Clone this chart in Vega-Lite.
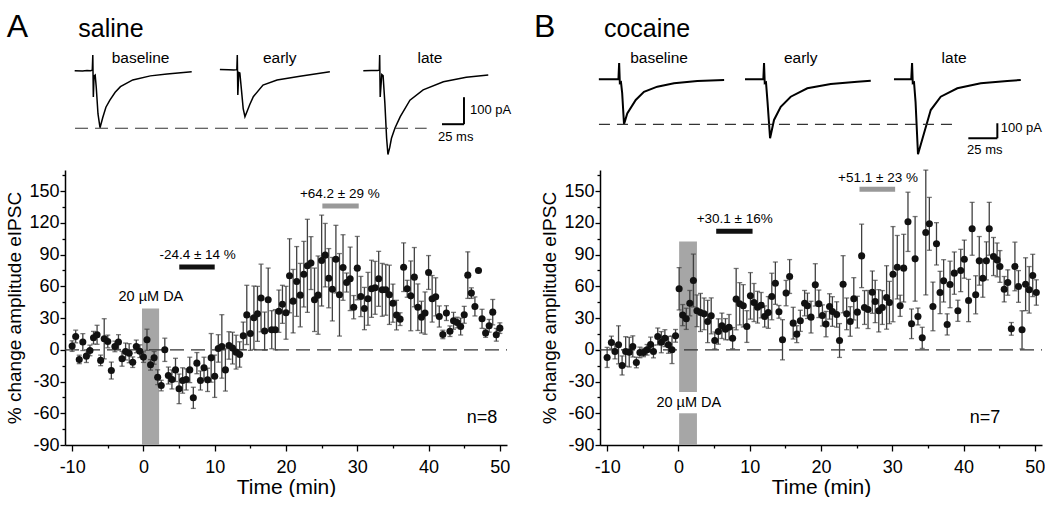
{
"$schema": "https://vega.github.io/schema/vega-lite/v6.json",
"padding": {"left": 5, "top": 0, "right": 0, "bottom": 0},
"config": {
 "font": "Liberation Sans",
 "view": {"stroke": null},
 "axis": {"grid": false, "domainColor": "#000", "domainWidth": 1.5, "tickColor": "#000", "tickWidth": 1.3, "labelColor": "#000", "labelFontSize": 18, "titleColor": "#000", "titleFontWeight": "normal", "labelFlush": false, "labelOverlap": false}
},
"datasets": {
 "saline": [
  {"t":-10,"v":3.5,"e":5},{"t":-9.5,"v":12.6,"e":6},{"t":-9,"v":-9.1,"e":4},{"t":-8.5,"v":7.3,"e":8},{"t":-8,"v":-6,"e":6},{"t":-7.5,"v":-0.6,"e":5},{"t":-7,"v":11.4,"e":6},{"t":-6.5,"v":14.2,"e":9},{"t":-6,"v":-10,"e":5},{"t":-5.5,"v":10.4,"e":19},{"t":-5,"v":7.9,"e":6},{"t":-4.5,"v":-19.6,"e":8},{"t":-4,"v":3.2,"e":5},{"t":-3.5,"v":7.3,"e":7},{"t":-3,"v":-8.5,"e":7},{"t":-2.5,"v":-1.6,"e":8},{"t":-2,"v":-3.2,"e":9},{"t":-1.5,"v":-11.7,"e":5},{"t":-1,"v":3.2,"e":6},{"t":-0.5,"v":-1.3,"e":6},
  {"t":0,"v":-6.9,"e":5},{"t":0.5,"v":9.5,"e":10},{"t":1,"v":-14.2,"e":5},{"t":1.5,"v":-7.6,"e":6},{"t":2,"v":-25.9,"e":7},{"t":2.5,"v":-33.8,"e":5},{"t":3,"v":0,"e":11},{"t":3.5,"v":-24.3,"e":8},{"t":4,"v":-28,"e":9},{"t":4.5,"v":-19,"e":11},{"t":5,"v":-36.9,"e":14},{"t":5.5,"v":-29,"e":12},{"t":6,"v":-28,"e":10},{"t":6.5,"v":-19,"e":12},{"t":7,"v":-45.4,"e":10},{"t":7.5,"v":-12.6,"e":10},{"t":8,"v":-29,"e":9},{"t":8.5,"v":-17,"e":10},{"t":9,"v":-28.4,"e":11},{"t":9.5,"v":-7.6,"e":23},
  {"t":10,"v":-25,"e":20},{"t":10.5,"v":1.3,"e":13},{"t":11,"v":3.2,"e":30},{"t":11.5,"v":-19,"e":20},{"t":12,"v":4.1,"e":13},{"t":12.5,"v":1.6,"e":15},{"t":13,"v":-2.2,"e":16},{"t":13.5,"v":-4.4,"e":12},{"t":14,"v":13.2,"e":13},{"t":14.5,"v":33,"e":28},{"t":15,"v":15.5,"e":16},{"t":15.5,"v":30.3,"e":30},{"t":16,"v":34,"e":26},{"t":16.5,"v":49,"e":32},{"t":17,"v":17.7,"e":18},{"t":17.5,"v":47.3,"e":30},{"t":18,"v":19,"e":18},{"t":18.5,"v":19,"e":19},{"t":19,"v":36.5,"e":20},{"t":19.5,"v":43,"e":18},
  {"t":20,"v":35,"e":25},{"t":20.5,"v":70,"e":35},{"t":21,"v":46,"e":30},{"t":21.5,"v":64.6,"e":33},{"t":22,"v":51.7,"e":30},{"t":22.5,"v":71.5,"e":31},{"t":23,"v":79.4,"e":44},{"t":23.5,"v":82,"e":25},{"t":24,"v":47.3,"e":30},{"t":24.5,"v":51.7,"e":37},{"t":25,"v":84.4,"e":43},{"t":25.5,"v":89.5,"e":30},{"t":26,"v":67.7,"e":28},{"t":26.5,"v":57.3,"e":30},{"t":27,"v":85.7,"e":32},{"t":27.5,"v":52,"e":39},{"t":28,"v":77.8,"e":31},{"t":28.5,"v":63.6,"e":9},{"t":29,"v":67.1,"e":30},{"t":29.5,"v":40.3,"e":11},
  {"t":30,"v":77.2,"e":30},{"t":30.5,"v":50.4,"e":19},{"t":31,"v":39,"e":20},{"t":31.5,"v":48.2,"e":25},{"t":32,"v":57.7,"e":27},{"t":32.5,"v":58.6,"e":25},{"t":33,"v":67.1,"e":26},{"t":33.5,"v":56.7,"e":25},{"t":34,"v":56.7,"e":24},{"t":34.5,"v":52,"e":28},{"t":35,"v":44.1,"e":18},{"t":35.5,"v":32.8,"e":14},{"t":36,"v":29,"e":6},{"t":36.5,"v":78.1,"e":23},{"t":37,"v":57.7,"e":8},{"t":37.5,"v":51,"e":33},{"t":38,"v":68.7,"e":28},{"t":38.5,"v":40.3,"e":22},{"t":39,"v":30.9,"e":15},{"t":39.5,"v":34.7,"e":20},
  {"t":40,"v":73.1,"e":16},{"t":40.5,"v":48.2,"e":22},{"t":41,"v":50.1,"e":18},{"t":41.5,"v":31.5,"e":10},{"t":42,"v":14.5,"e":4},{"t":42.5,"v":34.7,"e":7},{"t":43,"v":17.6,"e":5},{"t":43.5,"v":27.4,"e":8},{"t":44,"v":25.8,"e":5},{"t":44.5,"v":22,"e":8},{"t":45,"v":33.1,"e":8},{"t":45.5,"v":70.6,"e":22},{"t":46,"v":53.6,"e":5},{"t":46.5,"v":41,"e":9},{"t":47,"v":75,"e":0},{"t":47.5,"v":29.3,"e":9},{"t":48,"v":15.8,"e":4},{"t":48.5,"v":22.7,"e":6},{"t":49,"v":35.6,"e":12},{"t":49.5,"v":14.2,"e":6},{"t":50,"v":20.5,"e":5}
 ],
 "cocaine": [
  {"t":-10,"v":-7.2,"e":9.5},{"t":-9.4,"v":6.9,"e":6},{"t":-8.9,"v":-1.6,"e":7},{"t":-8.4,"v":4.7,"e":18},{"t":-7.9,"v":-14.8,"e":9},{"t":-7.4,"v":-1.6,"e":14},{"t":-6.9,"v":-2.2,"e":14},{"t":-6.4,"v":3.2,"e":10},{"t":-5.9,"v":-12,"e":5},{"t":-5.4,"v":-2.5,"e":5},{"t":-4.9,"v":-2.5,"e":4},{"t":-4.4,"v":0,"e":5},{"t":-3.9,"v":5,"e":7},{"t":-3.5,"v":-1.6,"e":6},{"t":-2.9,"v":12.6,"e":8},{"t":-2.4,"v":7.2,"e":10},{"t":-1.9,"v":11,"e":8},{"t":-1.4,"v":4.7,"e":8},{"t":-0.9,"v":0,"e":13},{"t":-0.4,"v":13.2,"e":6},
  {"t":0.1,"v":57.7,"e":20},{"t":0.6,"v":32.8,"e":10},{"t":1.1,"v":29.3,"e":10},{"t":1.6,"v":44.1,"e":12},{"t":2.1,"v":65.5,"e":25},{"t":2.6,"v":36.9,"e":15},{"t":3.1,"v":35.3,"e":18},{"t":3.6,"v":34,"e":15},{"t":4.1,"v":26.8,"e":20},{"t":4.6,"v":32.1,"e":17},{"t":5.1,"v":8.8,"e":8},{"t":5.6,"v":17.3,"e":12},{"t":6.1,"v":22.7,"e":12},{"t":6.6,"v":19.5,"e":10},{"t":7.1,"v":21.4,"e":12},{"t":7.6,"v":11,"e":10},{"t":8.1,"v":47.9,"e":29},{"t":8.6,"v":43.5,"e":20},{"t":9.1,"v":41.6,"e":20},{"t":9.6,"v":22,"e":15},
  {"t":10.1,"v":51,"e":22},{"t":10.6,"v":44.7,"e":18},{"t":11.1,"v":40.3,"e":15},{"t":11.6,"v":42.2,"e":12},{"t":12.1,"v":31.5,"e":10},{"t":12.6,"v":35.3,"e":15},{"t":13.1,"v":50.4,"e":22},{"t":13.6,"v":63,"e":20},{"t":14.1,"v":35.9,"e":6},{"t":14.6,"v":9.5,"e":19},{"t":15.1,"v":53.6,"e":12},{"t":15.6,"v":69.3,"e":16},{"t":16.1,"v":25.2,"e":15},{"t":16.6,"v":14.8,"e":8},{"t":17.1,"v":27.4,"e":10},{"t":17.7,"v":44.1,"e":12},{"t":18.1,"v":41.6,"e":12},{"t":18.6,"v":30.9,"e":15},{"t":19.2,"v":61.4,"e":20},{"t":19.7,"v":43.5,"e":13},
  {"t":20.2,"v":32.5,"e":10},{"t":20.7,"v":24.3,"e":12},{"t":21.2,"v":41,"e":12},{"t":21.6,"v":36.2,"e":14},{"t":22.2,"v":33.4,"e":12},{"t":22.6,"v":8.8,"e":16},{"t":23.1,"v":62,"e":27},{"t":23.6,"v":34,"e":15},{"t":24.1,"v":26.8,"e":14},{"t":24.6,"v":48.2,"e":20},{"t":25.1,"v":35.6,"e":15},{"t":25.7,"v":88.8,"e":30},{"t":26.1,"v":40,"e":16},{"t":26.6,"v":38.1,"e":18},{"t":27.2,"v":54.5,"e":20},{"t":27.6,"v":45.7,"e":20},{"t":28.1,"v":36.9,"e":20},{"t":28.6,"v":40,"e":16},{"t":29.2,"v":49.5,"e":30},{"t":29.6,"v":44.7,"e":20},
  {"t":30.1,"v":71.5,"e":45},{"t":30.7,"v":78.1,"e":30},{"t":31.1,"v":41.6,"e":10},{"t":31.6,"v":77.2,"e":32},{"t":32.2,"v":121,"e":28},{"t":32.7,"v":24.6,"e":14},{"t":33.2,"v":86,"e":40},{"t":33.6,"v":31.5,"e":8},{"t":34.2,"v":11.3,"e":10},{"t":34.7,"v":110.9,"e":59},{"t":35.2,"v":119.1,"e":25},{"t":35.7,"v":41,"e":23},{"t":36.2,"v":100.2,"e":20},{"t":36.7,"v":54.2,"e":20},{"t":37.2,"v":65.2,"e":20},{"t":37.7,"v":24,"e":10},{"t":38.1,"v":61.8,"e":22},{"t":38.7,"v":72.5,"e":20},{"t":39.2,"v":36.9,"e":10},{"t":39.6,"v":75,"e":20},
  {"t":40.1,"v":85.7,"e":18},{"t":40.7,"v":46.6,"e":20},{"t":41.2,"v":114.4,"e":25},{"t":41.7,"v":52,"e":18},{"t":42.2,"v":84.1,"e":23},{"t":42.7,"v":67.7,"e":18},{"t":43.2,"v":84.1,"e":18},{"t":43.6,"v":114.4,"e":25},{"t":44.2,"v":88.2,"e":18},{"t":44.7,"v":85,"e":16},{"t":45.1,"v":78.8,"e":15},{"t":45.7,"v":57.3,"e":12},{"t":46.2,"v":63.6,"e":12},{"t":46.7,"v":19.8,"e":6},{"t":47.2,"v":78.8,"e":23},{"t":47.7,"v":59.9,"e":15},{"t":48.2,"v":18.9,"e":18},{"t":48.7,"v":62,"e":25},{"t":49.2,"v":56.7,"e":22},{"t":49.7,"v":70.3,"e":20},{"t":50.2,"v":54.2,"e":12}
 ]
},
"spacing": 21,
"hconcat": [
 {
  "spacing": 0,
  "vconcat": [
   {
    "width": 442, "height": 166,
    "encoding": {
     "x": {"field": "t", "type": "quantitative", "scale": {"domain": [0, 502.3], "nice": false, "zero": false}, "axis": null},
     "y": {"field": "pA", "type": "quantitative", "scale": {"domain": [-352.8, 262], "nice": false, "zero": false}, "axis": null}
    },
    "layer": [
     {"data": {"values": [
       {"trace":"baseline","t":11,"pA":0},{"trace":"baseline","t":20,"pA":-1},{"trace":"baseline","t":25,"pA":1},{"trace":"baseline","t":29,"pA":0},{"trace":"baseline","t":31,"pA":2},{"trace":"baseline","t":31.6,"pA":58},{"trace":"baseline","t":32.2,"pA":-97},{"trace":"baseline","t":33,"pA":-20},{"trace":"baseline","t":34.3,"pA":-16},{"trace":"baseline","t":35.5,"pA":-60},{"trace":"baseline","t":37.5,"pA":-160},{"trace":"baseline","t":39.8,"pA":-211},{"trace":"baseline","t":43,"pA":-172},{"trace":"baseline","t":46.5,"pA":-135},{"trace":"baseline","t":51,"pA":-109},{"trace":"baseline","t":57,"pA":-80},{"trace":"baseline","t":63,"pA":-59},{"trace":"baseline","t":77,"pA":-34},{"trace":"baseline","t":97,"pA":-19},{"trace":"baseline","t":116,"pA":-12},{"trace":"baseline","t":144,"pA":-4},
       {"trace":"early","t":176,"pA":5},{"trace":"early","t":186,"pA":4},{"trace":"early","t":192,"pA":3},{"trace":"early","t":195.3,"pA":4},{"trace":"early","t":195.8,"pA":58},{"trace":"early","t":196.4,"pA":-90},{"trace":"early","t":197.5,"pA":-6},{"trace":"early","t":198.7,"pA":-8},{"trace":"early","t":200.5,"pA":-70},{"trace":"early","t":202.5,"pA":-140},{"trace":"early","t":204.5,"pA":-170},{"trace":"early","t":207,"pA":-150},{"trace":"early","t":210,"pA":-125},{"trace":"early","t":214,"pA":-96},{"trace":"early","t":225,"pA":-53},{"trace":"early","t":241,"pA":-34},{"trace":"early","t":267,"pA":-20},{"trace":"early","t":301,"pA":-4},
       {"trace":"late","t":339,"pA":0},{"trace":"late","t":348,"pA":1},{"trace":"late","t":355,"pA":1},{"trace":"late","t":357.2,"pA":2},{"trace":"late","t":357.6,"pA":58},{"trace":"late","t":358.2,"pA":-97},{"trace":"late","t":360,"pA":-14},{"trace":"late","t":361.5,"pA":-18},{"trace":"late","t":363.5,"pA":-120},{"trace":"late","t":365.5,"pA":-250},{"trace":"late","t":367,"pA":-310},{"trace":"late","t":369,"pA":-285},{"trace":"late","t":371,"pA":-250},{"trace":"late","t":375,"pA":-212},{"trace":"late","t":381,"pA":-170},{"trace":"late","t":392,"pA":-109},{"trace":"late","t":407,"pA":-71},{"trace":"late","t":430,"pA":-41},{"trace":"late","t":456,"pA":-24},{"trace":"late","t":481,"pA":-16}
      ]},
      "mark": {"type": "line", "color": "#000", "strokeWidth": 1.5},
      "encoding": {"detail": {"field": "trace"}}
     },
     {"data": {"values": [{"t": 11.4, "t2": 411, "pA": -213}]},
      "mark": {"type": "rule", "color": "#333", "strokeWidth": 1.2, "strokeDash": [13, 7]},
      "encoding": {"x2": {"field": "t2"}}
     },
     {"data": {"values": [{"t": 453.4, "t2": 453.4, "pA": -98, "pA2": -198}, {"t": 428.4, "t2": 453.4, "pA": -198, "pA2": -198}]},
      "mark": {"type": "rule", "color": "#000", "strokeWidth": 2},
      "encoding": {"x2": {"field": "t2"}, "y2": {"field": "pA2"}}
     },
     {"data": {"values": [{"t": -66.3, "pA": 126, "label": "A"}]},
      "mark": {"type": "text", "fontSize": 32, "align": "left", "baseline": "alphabetic", "color": "#000"},
      "encoding": {"text": {"field": "label"}}
     },
     {"data": {"values": [{"t": 15.1, "pA": 126, "label": "saline"}]},
      "mark": {"type": "text", "fontSize": 25, "align": "left", "baseline": "alphabetic", "color": "#000"},
      "encoding": {"text": {"field": "label"}}
     },
     {"data": {"values": [{"t": 85.9, "pA": 47, "label": "baseline"}, {"t": 244, "pA": 47, "label": "early"}, {"t": 414.8, "pA": 47, "label": "late"}]},
      "mark": {"type": "text", "fontSize": 15.5, "align": "center", "baseline": "middle", "color": "#000"},
      "encoding": {"text": {"field": "label"}}
     },
     {"data": {"values": [{"t": 460.2, "pA": -146, "label": "100 pA"}, {"t": 423.9, "pA": -246, "label": "25 ms"}]},
      "mark": {"type": "text", "fontSize": 13, "align": "left", "baseline": "middle", "color": "#000"},
      "encoding": {"text": {"field": "label"}}
     }
    ]
   },
   {
    "width": 442, "height": 275,
    "encoding": {
     "x": {"field": "t", "type": "quantitative", "scale": {"domain": [-11, 51], "nice": false, "zero": false},
       "axis": {"title": "Time (min)", "values": [-10,-5,0,5,10,15,20,25,30,35,40,45,50], "labelExpr": "datum.value % 10 === 0 ? '' + datum.value : ''", "tickSize": {"condition": {"test": "datum.value % 10 !== 0", "value": 3}, "value": 6}, "labelPadding": 7, "titleFontSize": 21, "titlePadding": 0}},
     "y": {"field": "v", "type": "quantitative", "scale": {"domain": [-90, 170], "nice": false, "zero": false},
       "axis": {"title": "% change amplitude eIPSC", "values": [-90,-75,-60,-45,-30,-15,0,15,30,45,60,75,90,105,120,135,150,165], "labelExpr": "datum.value % 30 === 0 ? '' + datum.value : ''", "tickSize": {"condition": {"test": "datum.value % 30 !== 0", "value": 3}, "value": 5}, "labelPadding": 1, "titleFontSize": 19, "titlePadding": 4}}
    },
    "layer": [
     {"data": {"values": [{"t": -0.2, "t2": 2.2, "v": -90, "v2": 39}]},
      "mark": {"type": "rect", "color": "#a6a6a6"},
      "encoding": {"x2": {"field": "t2"}, "y2": {"field": "v2"}}
     },
     {"data": {"values": [{"t": -11, "t2": 51, "v": 0}]},
      "mark": {"type": "rule", "color": "#333", "strokeWidth": 1.3, "strokeDash": [14, 7]},
      "encoding": {"x2": {"field": "t2"}}
     },
     {"data": {"name": "saline"},
      "mark": {"type": "errorbar", "ticks": true, "size": 5, "thickness": 1.3, "color": "#404040"},
      "encoding": {"yError": {"field": "e"}}
     },
     {"data": {"name": "saline"},
      "mark": {"type": "circle", "size": 50, "color": "#111", "opacity": 1}
     },
     {"data": {"values": [{"t": 5.03, "t2": 10.0, "v": 78.2}]},
      "mark": {"type": "rule", "color": "#111", "strokeWidth": 5},
      "encoding": {"x2": {"field": "t2"}}
     },
     {"data": {"values": [{"t": 25.1, "t2": 30.2, "v": 136}]},
      "mark": {"type": "rule", "color": "#999", "strokeWidth": 5},
      "encoding": {"x2": {"field": "t2"}}
     },
     {"data": {"values": [{"t": 1.05, "v": 49.8, "label": "20 µM DA"}]},
      "mark": {"type": "text", "fontSize": 14.5, "align": "center", "baseline": "middle", "color": "#000"},
      "encoding": {"text": {"field": "label"}}
     },
     {"data": {"values": [{"t": 7.6, "v": 89.3, "label": "-24.4 ± 14 %"}, {"t": 27.55, "v": 147.5, "label": "+64.2 ± 29 %"}]},
      "mark": {"type": "text", "fontSize": 13.5, "align": "center", "baseline": "middle", "color": "#000"},
      "encoding": {"text": {"field": "label"}}
     },
     {"data": {"values": [{"t": 47.5, "v": -64, "label": "n=8"}]},
      "mark": {"type": "text", "fontSize": 18, "align": "center", "baseline": "middle", "color": "#000"},
      "encoding": {"text": {"field": "label"}}
     }
    ]
   }
  ]
 },
 {
  "spacing": 0,
  "vconcat": [
   {
    "width": 442, "height": 166,
    "encoding": {
     "x": {"field": "t", "type": "quantitative", "scale": {"domain": [0, 381], "nice": false, "zero": false}, "axis": null},
     "y": {"field": "pA", "type": "quantitative", "scale": {"domain": [-578, 528.7], "nice": false, "zero": false}, "axis": null}
    },
    "layer": [
     {"data": {"values": [
       {"trace":"baseline","t":-1,"pA":0},{"trace":"baseline","t":8,"pA":0},{"trace":"baseline","t":15.9,"pA":1},{"trace":"baseline","t":16.5,"pA":109},{"trace":"baseline","t":17.1,"pA":-25},{"trace":"baseline","t":18.1,"pA":-20},{"trace":"baseline","t":19.1,"pA":-90},{"trace":"baseline","t":20.7,"pA":-300},{"trace":"baseline","t":23.5,"pA":-227},{"trace":"baseline","t":30.8,"pA":-138},{"trace":"baseline","t":37.9,"pA":-83},{"trace":"baseline","t":49.4,"pA":-49},{"trace":"baseline","t":63.8,"pA":-27},{"trace":"baseline","t":83.9,"pA":-11},{"trace":"baseline","t":107,"pA":-5},
       {"trace":"early","t":125,"pA":0},{"trace":"early","t":135,"pA":0},{"trace":"early","t":140.8,"pA":1},{"trace":"early","t":141.4,"pA":109},{"trace":"early","t":142,"pA":-25},{"trace":"early","t":143.1,"pA":-20},{"trace":"early","t":144.4,"pA":-150},{"trace":"early","t":146.6,"pA":-393},{"trace":"early","t":150,"pA":-271},{"trace":"early","t":155.8,"pA":-183},{"trace":"early","t":164.4,"pA":-116},{"trace":"early","t":178.7,"pA":-60},{"trace":"early","t":198.9,"pA":-31},{"trace":"early","t":221.8,"pA":-16},{"trace":"early","t":233.4,"pA":-9},
       {"trace":"late","t":253.4,"pA":0},{"trace":"late","t":262,"pA":0},{"trace":"late","t":268.3,"pA":1},{"trace":"late","t":269,"pA":109},{"trace":"late","t":269.6,"pA":-25},{"trace":"late","t":270.7,"pA":-20},{"trace":"late","t":272,"pA":-150},{"trace":"late","t":274.1,"pA":-500},{"trace":"late","t":279.3,"pA":-360},{"trace":"late","t":285.1,"pA":-205},{"trace":"late","t":293.7,"pA":-116},{"trace":"late","t":308,"pA":-60},{"trace":"late","t":328.2,"pA":-27},{"trace":"late","t":351.1,"pA":-11},{"trace":"late","t":362.7,"pA":-5}
      ]},
      "mark": {"type": "line", "color": "#000", "strokeWidth": 2},
      "encoding": {"detail": {"field": "trace"}}
     },
     {"data": {"values": [{"t": -0.9, "t2": 306.6, "pA": -300}]},
      "mark": {"type": "rule", "color": "#333", "strokeWidth": 1.2, "strokeDash": [11, 7]},
      "encoding": {"x2": {"field": "t2"}}
     },
     {"data": {"values": [{"t": 342.5, "t2": 342.5, "pA": -293, "pA2": -393}, {"t": 317.5, "t2": 342.5, "pA": -393, "pA2": -393}]},
      "mark": {"type": "rule", "color": "#000", "strokeWidth": 2},
      "encoding": {"x2": {"field": "t2"}, "y2": {"field": "pA2"}}
     },
     {"data": {"values": [{"t": -56.9, "pA": 284, "label": "B"}]},
      "mark": {"type": "text", "fontSize": 32, "align": "left", "baseline": "alphabetic", "color": "#000"},
      "encoding": {"text": {"field": "label"}}
     },
     {"data": {"values": [{"t": 3.4, "pA": 284, "label": "cocaine"}]},
      "mark": {"type": "text", "fontSize": 25, "align": "left", "baseline": "alphabetic", "color": "#000"},
      "encoding": {"text": {"field": "label"}}
     },
     {"data": {"values": [{"t": 50.9, "pA": 142, "label": "baseline"}, {"t": 173, "pA": 142, "label": "early"}, {"t": 305.2, "pA": 142, "label": "late"}]},
      "mark": {"type": "text", "fontSize": 15.5, "align": "center", "baseline": "middle", "color": "#000"},
      "encoding": {"text": {"field": "label"}}
     },
     {"data": {"values": [{"t": 345.4, "pA": -325, "label": "100 pA"}, {"t": 316.4, "pA": -472, "label": "25 ms"}]},
      "mark": {"type": "text", "fontSize": 13, "align": "left", "baseline": "middle", "color": "#000"},
      "encoding": {"text": {"field": "label"}}
     }
    ]
   },
   {
    "width": 442, "height": 275,
    "encoding": {
     "x": {"field": "t", "type": "quantitative", "scale": {"domain": [-11, 51], "nice": false, "zero": false},
       "axis": {"title": "Time (min)", "values": [-10,-5,0,5,10,15,20,25,30,35,40,45,50], "labelExpr": "datum.value % 10 === 0 ? '' + datum.value : ''", "tickSize": {"condition": {"test": "datum.value % 10 !== 0", "value": 3}, "value": 6}, "labelPadding": 7, "titleFontSize": 21, "titlePadding": 0}},
     "y": {"field": "v", "type": "quantitative", "scale": {"domain": [-90, 170], "nice": false, "zero": false},
       "axis": {"title": "% change amplitude eIPSC", "values": [-90,-75,-60,-45,-30,-15,0,15,30,45,60,75,90,105,120,135,150,165], "labelExpr": "datum.value % 30 === 0 ? '' + datum.value : ''", "tickSize": {"condition": {"test": "datum.value % 30 !== 0", "value": 3}, "value": 5}, "labelPadding": 1, "titleFontSize": 19, "titlePadding": 4}}
    },
    "layer": [
     {"data": {"values": [{"t": 0.1, "t2": 2.6, "v": -40, "v2": 102.4}, {"t": 0.1, "t2": 2.6, "v": -90, "v2": -60}]},
      "mark": {"type": "rect", "color": "#a6a6a6"},
      "encoding": {"x2": {"field": "t2"}, "y2": {"field": "v2"}}
     },
     {"data": {"values": [{"t": -11, "t2": 51, "v": 0}]},
      "mark": {"type": "rule", "color": "#333", "strokeWidth": 1.3, "strokeDash": [14, 7]},
      "encoding": {"x2": {"field": "t2"}}
     },
     {"data": {"name": "cocaine"},
      "mark": {"type": "errorbar", "ticks": true, "size": 5, "thickness": 1.3, "color": "#404040"},
      "encoding": {"yError": {"field": "e"}}
     },
     {"data": {"name": "cocaine"},
      "mark": {"type": "circle", "size": 50, "color": "#111", "opacity": 1}
     },
     {"data": {"values": [{"t": 5.3, "t2": 10.4, "v": 112.2}]},
      "mark": {"type": "rule", "color": "#111", "strokeWidth": 5},
      "encoding": {"x2": {"field": "t2"}}
     },
     {"data": {"values": [{"t": 25.4, "t2": 30.4, "v": 151.9}]},
      "mark": {"type": "rule", "color": "#999", "strokeWidth": 5},
      "encoding": {"x2": {"field": "t2"}}
     },
     {"data": {"values": [{"t": 1.45, "v": -50.4, "label": "20 µM DA"}]},
      "mark": {"type": "text", "fontSize": 14.5, "align": "center", "baseline": "middle", "color": "#000"},
      "encoding": {"text": {"field": "label"}}
     },
     {"data": {"values": [{"t": 7.9, "v": 123.8, "label": "+30.1 ± 16%"}, {"t": 28.0, "v": 162.9, "label": "+51.1 ± 23 %"}]},
      "mark": {"type": "text", "fontSize": 13.5, "align": "center", "baseline": "middle", "color": "#000"},
      "encoding": {"text": {"field": "label"}}
     },
     {"data": {"values": [{"t": 43, "v": -64, "label": "n=7"}]},
      "mark": {"type": "text", "fontSize": 18, "align": "center", "baseline": "middle", "color": "#000"},
      "encoding": {"text": {"field": "label"}}
     }
    ]
   }
  ]
 }
]
}
